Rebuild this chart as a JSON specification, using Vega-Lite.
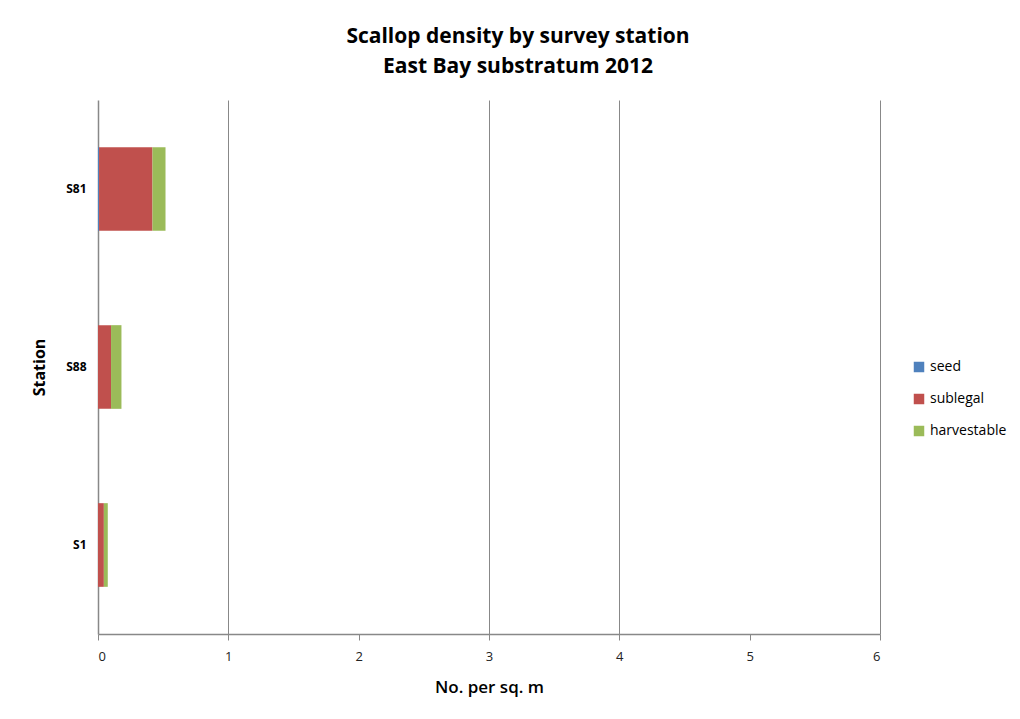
{
  "$schema": "https://vega.github.io/schema/vega-lite/v6.json",
  "autosize": {"type": "none"},
  "padding": {"left": 98, "top": 100, "right": 140, "bottom": 85},
  "width": 782,
  "height": 534,
  "background": "white",
  "title": {
    "text": ["Scallop density by survey station", "East Bay substratum 2012"],
    "font": "Open Sans",
    "fontSize": 21,
    "fontWeight": "bold",
    "color": "#000000",
    "anchor": "middle",
    "frame": "group",
    "dx": 29,
    "lineHeight": 30,
    "offset": 23
  },
  "data": {
    "values": [
      {"station": "S81", "category": "seed", "ord": 1, "value": 0.008},
      {"station": "S81", "category": "sublegal", "ord": 2, "value": 0.41},
      {"station": "S81", "category": "harvestable", "ord": 3, "value": 0.10},
      {"station": "S88", "category": "seed", "ord": 1, "value": 0},
      {"station": "S88", "category": "sublegal", "ord": 2, "value": 0.10},
      {"station": "S88", "category": "harvestable", "ord": 3, "value": 0.08},
      {"station": "S1", "category": "seed", "ord": 1, "value": 0},
      {"station": "S1", "category": "sublegal", "ord": 2, "value": 0.045},
      {"station": "S1", "category": "harvestable", "ord": 3, "value": 0.03}
    ]
  },
  "mark": {"type": "bar"},
  "encoding": {
    "y": {
      "field": "station",
      "type": "nominal",
      "sort": ["S81", "S88", "S1"],
      "scale": {"paddingInner": 0.53, "paddingOuter": 0.265},
      "axis": {
        "title": "Station",
        "titleFont": "Open Sans",
        "titleFontSize": 16,
        "titleFontWeight": "bold",
        "titleColor": "#000000",
        "titlePadding": 18,
        "labelFont": "Open Sans",
        "labelFontSize": 12,
        "labelFontWeight": "bold",
        "labelColor": "#000000",
        "labelPadding": 12,
        "ticks": false,
        "domainColor": "#888888",
        "domainWidth": 1.5,
        "grid": false
      }
    },
    "x": {
      "field": "value",
      "type": "quantitative",
      "stack": "zero",
      "scale": {"domain": [0, 6], "nice": false},
      "axis": {
        "title": "No. per sq. m",
        "values": [0, 1, 2, 3, 4, 5, 6],
        "titleFont": "Open Sans",
        "titleFontSize": 17,
        "titleFontWeight": 600,
        "titleColor": "#000000",
        "titlePadding": 16,
        "labelFont": "Open Sans",
        "labelFontSize": 13,
        "labelColor": "#222222",
        "labelPadding": 10,
        "tickSize": 6,
        "tickColor": "#888888",
        "domainColor": "#888888",
        "domainWidth": 1.5,
        "grid": true,
        "gridColor": "#888888",
        "gridWidth": 1,
        "gridOpacity": {"condition": {"test": "datum.value == 2 || datum.value == 5 || datum.value == 0", "value": 0}, "value": 1}
      }
    },
    "color": {
      "field": "category",
      "type": "nominal",
      "scale": {
        "domain": ["seed", "sublegal", "harvestable"],
        "range": ["#4F81BD", "#C0504D", "#9BBB59"]
      },
      "legend": {
        "title": null,
        "orient": "none",
        "legendX": 814,
        "legendY": 260,
        "symbolType": "square",
        "symbolSize": 110,
        "symbolStrokeWidth": 0,
        "labelFont": "Open Sans",
        "labelFontSize": 14,
        "labelColor": "#000000",
        "rowPadding": 18,
        "labelOffset": 4
      }
    },
    "order": {"field": "ord", "type": "quantitative"}
  },
  "config": {
    "view": {"stroke": null}
  }
}
